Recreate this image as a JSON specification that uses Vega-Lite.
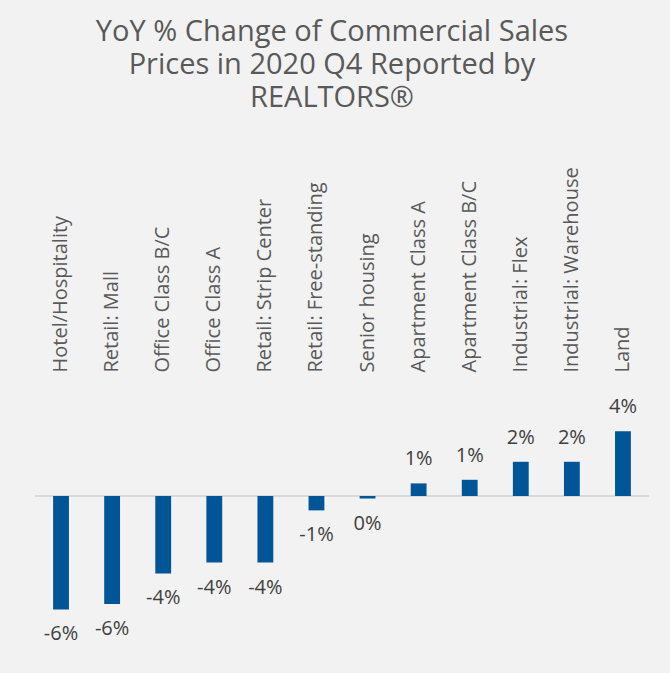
{
  "$schema": "https://vega.github.io/schema/vega-lite/v6.json",
  "width": 613,
  "height": 270,
  "autosize": {"type": "none"},
  "padding": {"left": 35.5, "top": 379, "right": 21.5, "bottom": 24},
  "background": "#f2f2f2",
  "config": {
    "view": {"stroke": null},
    "font": "Open Sans",
    "locale": {"number": {"decimal": ".", "thousands": ",", "grouping": [3], "currency": ["$", ""], "minus": "-"}}
  },
  "title": {
    "text": ["YoY % Change of Commercial Sales", "Prices in 2020 Q4 Reported by", "REALTORS®"],
    "fontSize": 29,
    "font": "Open Sans",
    "fontWeight": "normal",
    "color": "#595959",
    "lineHeight": 33,
    "anchor": "middle",
    "dx": -10,
    "offset": 54
  },
  "data": {
    "values": [
      {"category": "Hotel/Hospitality", "value": -0.063},
      {"category": "Retail: Mall", "value": -0.060},
      {"category": "Office Class B/C", "value": -0.043},
      {"category": "Office Class A", "value": -0.037},
      {"category": "Retail: Strip Center", "value": -0.037},
      {"category": "Retail: Free-standing", "value": -0.008},
      {"category": "Senior housing", "value": -0.0014},
      {"category": "Apartment Class A", "value": 0.007},
      {"category": "Apartment Class B/C", "value": 0.009},
      {"category": "Industrial: Flex", "value": 0.019},
      {"category": "Industrial: Warehouse", "value": 0.019},
      {"category": "Land", "value": 0.036}
    ]
  },
  "layer": [
    {
      "mark": {"type": "rule", "color": "#d9d9d9", "strokeWidth": 1.5},
      "encoding": {
        "y": {"datum": 0, "type": "quantitative", "scale": {"domain": [-0.085, 0.065]}, "axis": null}
      }
    },
    {
      "mark": {"type": "bar", "color": "#005596", "width": {"band": 1}},
      "encoding": {
        "x": {
          "field": "category", "type": "nominal", "sort": null,
          "scale": {"paddingInner": 0.69, "paddingOuter": 0.345},
          "axis": {"orient": "top", "title": null, "labelAngle": -90, "domain": false, "ticks": false,
                   "labelFontSize": 20, "labelColor": "#595959", "labelPadding": 7, "labelLimit": 300, "labelFont": "Open Sans"}
        },
        "y": {"field": "value", "type": "quantitative", "scale": {"domain": [-0.085, 0.065]}, "axis": null}
      }
    },
    {
      "transform": [{"filter": "datum.value >= 0"}],
      "mark": {"type": "text", "baseline": "middle", "dy": -24, "fontSize": 20, "color": "#404040"},
      "encoding": {
        "x": {"field": "category", "type": "nominal", "sort": null},
        "y": {"field": "value", "type": "quantitative", "scale": {"domain": [-0.085, 0.065]}, "axis": null},
        "text": {"field": "value", "type": "quantitative", "format": ".0%"}
      }
    },
    {
      "transform": [{"filter": "datum.value < 0"}],
      "mark": {"type": "text", "baseline": "middle", "dy": 25, "fontSize": 20, "color": "#404040"},
      "encoding": {
        "x": {"field": "category", "type": "nominal", "sort": null},
        "y": {"field": "value", "type": "quantitative", "scale": {"domain": [-0.085, 0.065]}, "axis": null},
        "text": {"field": "value", "type": "quantitative", "format": ".0%"}
      }
    }
  ]
}
